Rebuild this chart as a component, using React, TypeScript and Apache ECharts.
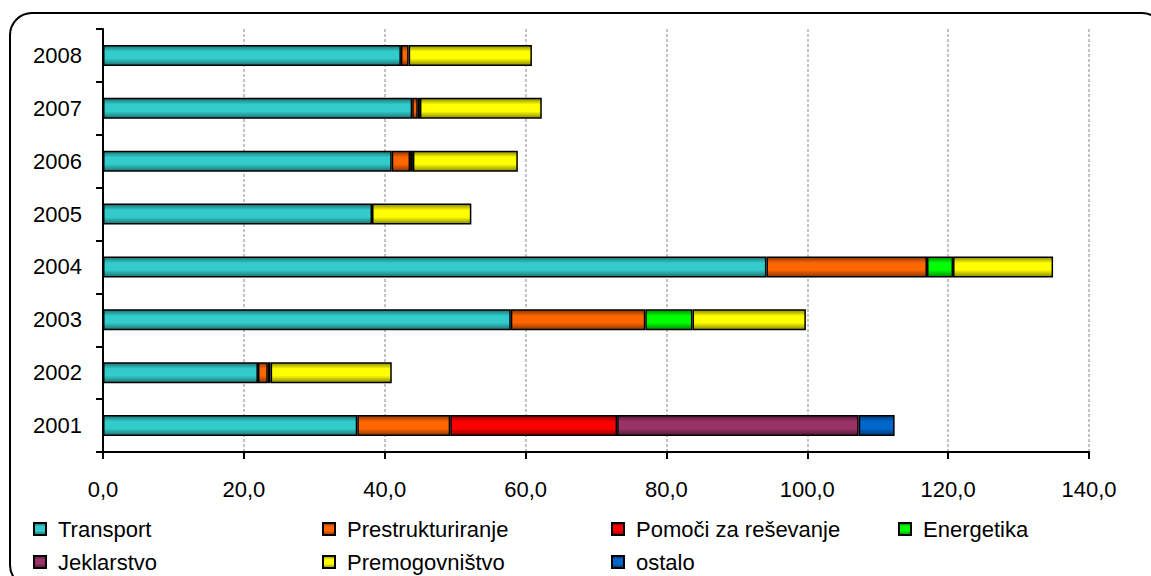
import React, { useEffect, useRef } from "react";
import * as echarts from "echarts";

const years = ["2001", "2002", "2003", "2004", "2005", "2006", "2007", "2008"];
const transport = [36.1, 22.0, 57.9, 94.2, 38.2, 41.0, 43.9, 42.3];
const prestrukturiranje = [13.2, 1.4, 19.1, 22.8, null, 2.6, 0.8, 1.1];
const pomoci = [23.7, 0.4, null, null, null, 0.4, 0.3, null];
const energetika = [null, null, 6.7, 3.7, null, null, null, null];
const jeklarstvo = [34.3, null, null, null, null, null, null, null];
const premogovnistvo = [null, 17.2, 16.1, 14.2, 14.1, 14.9, 17.3, 17.5];
const ostalo = [5.1, null, null, null, null, null, null, null];
const xTicks = [0, 20, 40, 60, 80, 100, 120, 140];

const seriesDefs = [
  { name: "Transport", data: transport, base: "#33CCCC", dark: "#1d7373" },
  { name: "Prestrukturiranje", data: prestrukturiranje, base: "#FF6600", dark: "#8a3700" },
  { name: "Pomoči za reševanje", data: pomoci, base: "#FF0000", dark: "#8a0000" },
  { name: "Energetika", data: energetika, base: "#00FF00", dark: "#008a00" },
  { name: "Jeklarstvo", data: jeklarstvo, base: "#993366", dark: "#55193a" },
  { name: "Premogovništvo", data: premogovnistvo, base: "#FFFF00", dark: "#8a8a00" },
  { name: "ostalo", data: ostalo, base: "#0066CC", dark: "#003a73" },
];

const legendPos = [
  { left: 33, top: 518 },
  { left: 322, top: 518 },
  { left: 611, top: 518 },
  { left: 898, top: 518 },
  { left: 33, top: 551 },
  { left: 322, top: 551 },
  { left: 611, top: 551 },
];

const FONT = "'Liberation Sans', Arial, sans-serif";

export default function App() {
  const ref = useRef<HTMLDivElement>(null);
  useEffect(() => {
    if (!ref.current) return;
    const chart = echarts.init(ref.current, null, { renderer: "svg" });
    const option = {
      animation: false,
      backgroundColor: "#ffffff",
      textStyle: { fontFamily: FONT },
      graphic: [
        {
          type: "rect",
          shape: { x: 10, y: 13, width: 1154, height: 574, r: 22 },
          style: { fill: "none", stroke: "#000", lineWidth: 2 },
          silent: true,
        },
      ],
      grid: { left: 103, top: 29, right: 62, bottom: 124, containLabel: false },
      legend: seriesDefs.map((s, i) => ({
        data: [s.name],
        left: legendPos[i].left,
        top: legendPos[i].top,
        padding: 0,
        itemWidth: 12,
        itemHeight: 12,
        icon: "rect",
        selectedMode: false,
        textStyle: {
          fontFamily: FONT,
          fontSize: 22,
          color: "#000",
          padding: [0, 0, 0, 7],
        },
      })),
      xAxis: {
        type: "value",
        min: 0,
        max: 140,
        interval: 20,
        axisLine: { show: true, lineStyle: { color: "#000", width: 2 } },
        axisTick: { show: true, length: 7, lineStyle: { color: "#000", width: 2 } },
        splitLine: {
          show: true,
          lineStyle: { color: "#b0b0b0", type: [3, 2], width: 1.5 },
        },
        axisLabel: {
          fontFamily: FONT,
          fontSize: 22,
          color: "#000",
          margin: 26,
          formatter: (v: number) =>
            xTicks.includes(v) ? v.toFixed(1).replace(".", ",") : "",
        },
      },
      yAxis: {
        type: "category",
        data: years,
        axisLine: { show: true, lineStyle: { color: "#000", width: 2 } },
        axisTick: { show: true, length: 7, lineStyle: { color: "#000", width: 2 } },
        splitLine: { show: false },
        axisLabel: {
          fontFamily: FONT,
          fontSize: 22,
          color: "#000",
          margin: 21,
        },
      },
      series: seriesDefs.map((s) => ({
        name: s.name,
        type: "bar",
        stack: "total",
        barWidth: 21,
        data: s.data,
        itemStyle: {
          color: new echarts.graphic.LinearGradient(0, 0, 0, 1, [
            { offset: 0, color: s.dark },
            { offset: 0.3, color: s.base },
            { offset: 0.65, color: s.base },
            { offset: 1, color: s.dark },
          ]),
          borderColor: "#000",
          borderWidth: 1.5,
        },
        emphasis: { disabled: true },
      })),
    };
    chart.setOption(option as any);
    return () => chart.dispose();
  }, []);
  return (
    <div
      ref={ref}
      style={{ position: "fixed", left: 0, top: 0, width: 1151, height: 576 }}
    />
  );
}
